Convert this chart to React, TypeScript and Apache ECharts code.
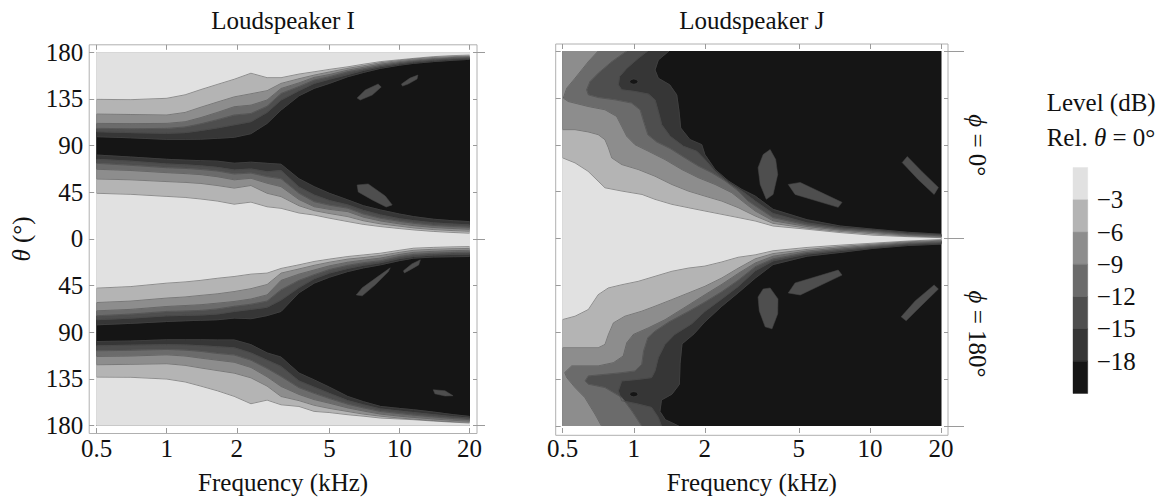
import { useEffect, useRef } from "react";
import * as echarts from "echarts";

// ---------- styling ----------
const FONT = "Liberation Serif, Times New Roman, Times, serif";
const TEXT = "#111111";
const FRAME = "#b0b0b0";
const TICK = "#9a9a9a";
const CONTOUR = "rgba(70,70,70,0.6)";

// ---------- level scale ----------
const LEVELS = [-3, -6, -9, -12, -15, -18];
const LEVEL_FLOOR = -21;
// band colours, from "above -3 dB" down to "below -18 dB"
const BAND_COLORS = ["#e1e1e1", "#b4b4b4", "#8d8d8d", "#6b6b6b", "#4e4e4e", "#363636", "#151515"];
const ISLAND_COLOR = "#4e4e4e";

const F_MIN = 0.5;
const F_MAX = 20;
const FREQ_TICKS = [0.5, 1, 2, 5, 10, 20];

// ---------- Loudspeaker I ----------
// contour angles (deg) sampled at these frequencies (kHz)
const FREQ_I = [0.5, 0.7, 1.0, 1.2, 1.4, 1.65, 1.95, 2.3, 2.7, 3.1, 3.7, 4.3, 5.0, 6.0, 7.0, 8.3, 10, 11.5, 14, 17, 20];

// φ = 0°, contours on the on-axis side of the null (rows: −3 … −18 dB)
const I_PHI0_FRONT = [
  [44, 43, 41, 40, 38.5, 36.5, 33.5, 35.5, 31, 29.5, 25, 23, 20, 16.7, 14, 11.9, 10, 8.7, 7.2, 6.2, 5.5],
  [57.8, 57, 55.3, 54.5, 53.5, 51.5, 49, 51.5, 44, 40.8, 32, 27.3, 24.5, 21.5, 17.5, 14.5, 12.3, 10.6, 9, 8, 7.4],
  [67.2, 66, 63.9, 63, 62, 60, 57, 58.5, 53.7, 50.4, 38, 31.1, 28.5, 26.3, 21, 17.3, 14.5, 12.8, 11, 10, 9.3],
  [72.9, 71, 68.7, 68, 67, 65.5, 62.6, 63.5, 60, 58, 44, 35.9, 32.5, 29.6, 24, 19.9, 17, 15.1, 13, 12, 11.2],
  [76.8, 75, 72.3, 71.5, 70.5, 69, 66.5, 67.5, 64.8, 66, 50, 42.4, 37, 32.8, 27.5, 23.1, 19.5, 17.6, 15.5, 14.3, 13.5],
  [80.9, 79, 76.8, 76, 75.5, 75, 73, 74, 72.9, 72, 58, 50.4, 44, 37.6, 32, 27.9, 24, 21.5, 19, 17.5, 16.7],
];
// φ = 0°, contours on the rear side of the null
const I_PHI0_REAR = [
  [134.6, 134.3, 135.6, 139, 144, 149, 154, 159.8, 155.5, 155.5, 159, 161.2, 163.5, 166, 168.5, 171, 172.8, 174.1, 175.8, 176.8, 177.3],
  [120.4, 120, 119.5, 122, 127, 132, 137, 140, 143, 150, 154.5, 158, 161, 164.5, 167, 169.9, 172, 173.5, 175, 175.8, 176.3],
  [111.4, 111.2, 111.4, 113, 117, 122, 127.5, 129, 134, 145.1, 150.5, 155.8, 158.5, 162.8, 165.5, 168.6, 171, 172.5, 174, 175, 175.7],
  [106.6, 106.3, 106.6, 108, 111, 115, 119.5, 121, 128, 140.3, 147, 153.2, 156.5, 161.2, 164, 167.3, 170, 171.5, 173.2, 174.4, 175.1],
  [103.4, 102.5, 101.8, 102.5, 104.5, 107, 110, 113, 122, 133.9, 143, 150, 154, 158.5, 162.5, 166, 168.8, 170.5, 172.2, 173.5, 174.1],
  [98.6, 97.5, 96, 96, 96.2, 97, 98, 101.5, 111.4, 124.3, 138, 145.2, 150, 156.4, 160.5, 164.5, 167.5, 169.3, 171, 172.3, 173.2],
];
// φ = 180°
const I_PHI180_FRONT = [
  [47.5, 46, 42.7, 41.5, 40, 38, 36.3, 34, 33, 28.5, 25, 21.8, 19.5, 17, 15.5, 13.8, 11, 9, 8.2, 7.7, 7.4],
  [61.4, 60, 57.1, 56, 54.5, 53, 50.8, 48, 44, 33, 29, 25.5, 22.5, 19.5, 18, 16, 13, 11, 10, 9.5, 9.2],
  [69.4, 68, 65.2, 64.3, 63.5, 62, 60.4, 58, 54, 40, 34, 30, 26, 22.5, 20.5, 18.5, 15, 13, 12, 11.3, 11],
  [74.2, 72.5, 70, 69.5, 69, 67.5, 65, 63, 60, 49, 40, 34.5, 29.5, 25.5, 23, 21, 17, 15, 13.8, 13.1, 12.8],
  [78, 76.5, 74.2, 73.8, 73.5, 72.5, 70, 68, 66, 59, 47, 38.5, 33, 28.5, 25.5, 23, 19, 17, 15.6, 15, 14.8],
  [82.9, 81.5, 79.7, 79, 78.5, 78, 76.4, 77, 74, 70, 52, 42.7, 37, 31.5, 28, 25, 21, 18.6, 17.5, 17.2, 17],
];
const I_PHI180_REAR = [
  [133.3, 133.5, 135.2, 138, 142, 146.5, 151.9, 159, 155.5, 160, 161.6, 166.4, 167.5, 169.6, 171, 172.8, 173.7, 174.4, 175.7, 176.8, 177.6],
  [121.4, 121, 120.4, 122, 124.5, 127, 129.5, 134, 142, 152, 156, 160.5, 163.5, 166.5, 169, 171, 172.8, 173.8, 175.2, 176.3, 176.8],
  [113.4, 113, 111.8, 113, 115, 117, 119, 124, 133, 142.3, 150, 155, 158.5, 163, 166, 169, 171, 172.2, 173.7, 175, 175.8],
  [107.9, 107.5, 106.6, 107.3, 108.5, 110.5, 112, 117, 125, 132.7, 143.5, 149, 154, 159.5, 163, 166.5, 168.5, 170, 171.7, 173.3, 174.3],
  [103.1, 102.5, 102, 102.3, 103, 104, 105, 110, 117, 123, 137, 143, 149, 156, 160, 164, 166, 167.5, 169.5, 171.5, 172.8],
  [99, 98.5, 97.3, 97.3, 97.3, 97.5, 97.5, 102, 110, 114, 129.4, 136, 143, 152, 157, 161.6, 163.5, 164.8, 167, 169.5, 171.2],
];
// small −15…−12 dB pockets inside the deep null
const I_PHI0_ISLANDS = [
  [[6.58, 135.9], [7.13, 143.6], [8.1, 149.4], [8.35, 146.5], [7.64, 138.8], [6.78, 133.9]],
  [[10.2, 149.4], [11.1, 155.1], [12.0, 158], [11.9, 154.2], [10.9, 149.4], [10.3, 147.4]],
  [[6.58, 52], [7.34, 53], [8.69, 41.4], [9.31, 32.8], [8.77, 30.8], [7.64, 37.6], [6.65, 45.3]],
];
const I_PHI180_ISLANDS = [
  [[6.52, 54], [6.92, 47.2], [8.27, 34.7], [9.13, 27.9], [8.95, 31.8], [7.87, 44.3], [6.92, 54.9]],
  [[10.4, 30.8], [11.3, 24.1], [12.3, 20.2], [12.1, 25.1], [11.1, 29.9], [10.5, 32.8]],
  [[13.97, 145.5], [15.7, 146.5], [17.0, 151.3], [15.7, 151.5], [14.2, 149.4]],
];

// ---------- Loudspeaker J ----------
// contour polylines as [frequency kHz, θ deg]
const J_PHI0_C3 = [[0.5, 77.4], [0.564, 72.6], [0.64, 64.6], [0.706, 55.1], [0.755, 48.7], [0.892, 45.5], [1.084, 42.3], [1.23, 37.6], [1.45, 32.8], [1.7, 29.6], [2.0, 26.4], [2.36, 23.2], [2.77, 20.1], [3.27, 16.8], [3.89, 12], [5.42, 8.9], [7.48, 5.7], [10.3, 3.2], [14.4, 1.8], [20, 0.8]];
const J_PHI0_C6 = [[0.5, 104.5], [0.564, 104.5], [0.642, 102.3], [0.707, 99.7], [0.755, 94.9], [0.781, 87], [0.807, 77.4], [0.889, 71], [1.045, 66.2], [1.23, 59.8], [1.448, 51.9], [1.703, 45.5], [2.0, 40.7], [2.36, 35.9], [2.77, 29.6], [3.27, 21.6], [3.89, 14.5], [5.42, 10], [7.48, 6.8], [10.3, 4.5], [14.4, 2.5], [20, 1.4]];
const J_PHI0_C9 = [[0.707, 180], [0.642, 169.8], [0.564, 153.9], [0.52, 144.3], [0.503, 134.8], [0.528, 131.5], [0.642, 126.7], [0.755, 123.6], [0.846, 117.2], [0.889, 107.6], [0.934, 98.1], [1.012, 90.1], [1.155, 83.7], [1.355, 75.8], [1.598, 66.2], [1.879, 58.3], [2.21, 51.9], [2.6, 44], [3.0, 32.8], [3.27, 26.4], [3.89, 17], [5.42, 11.5], [7.48, 8], [10.3, 5.8], [14.4, 3.2], [20, 2.0]];
const J_PHI0_C12 = [[0.934, 180], [0.807, 169.8], [0.707, 158.7], [0.652, 150.6], [0.631, 142.7], [0.642, 137.9], [0.707, 135.3], [0.833, 133.1], [0.979, 130], [1.063, 123.6], [1.1, 112.4], [1.146, 99.7], [1.25, 92.7], [1.426, 86.3], [1.647, 77.4], [1.879, 69.4], [2.14, 63.1], [2.44, 55.1], [2.77, 45.5], [3.05, 35.9], [3.27, 31.3], [3.89, 20], [5.42, 13], [7.48, 9], [10.3, 7], [14.4, 4], [20, 2.6]];
const J_PHI0_C15 = [[1.146, 180], [1.045, 173], [0.934, 163.4], [0.87, 155.4], [0.86, 147.5], [0.889, 142.7], [1.012, 141.1], [1.155, 138.6], [1.23, 133.1], [1.27, 122], [1.313, 109.3], [1.426, 98.1], [1.624, 88.5], [1.85, 83.7], [2.0, 75.8], [2.21, 64.6], [2.52, 53.5], [2.87, 45.5], [3.27, 35.9], [3.89, 24], [5.42, 15], [7.48, 10.3], [10.3, 8], [14.4, 4.8], [20, 3.3]];
const J_PHI0_C18 = [[1.41, 180], [1.27, 171.4], [1.23, 161.8], [1.27, 153.9], [1.42, 147.5], [1.52, 137.9], [1.555, 122], [1.58, 106.1], [1.73, 94.9], [1.94, 90.1], [2.0, 80.6], [2.21, 66.2], [2.52, 55.1], [2.87, 47.1], [3.27, 40.7], [3.89, 28], [5.42, 18], [7.48, 12], [10.3, 9], [14.4, 6], [20, 4.1]];

const J_PHI180_C3 = [[0.5, 77.8], [0.564, 74.6], [0.642, 68.2], [0.707, 53.9], [0.78, 47.5], [0.889, 44.4], [1.045, 41.1], [1.23, 36.3], [1.448, 31.5], [1.703, 28.4], [2.0, 26.5], [2.36, 22.5], [2.77, 18], [3.27, 15.7], [3.89, 11.8], [5.42, 8.6], [7.48, 6.4], [10.3, 4.5], [14.4, 2.5], [20, 1.0]];
const J_PHI180_C6 = [[0.5, 104.9], [0.707, 104.9], [0.755, 101.7], [0.781, 92.1], [0.82, 81], [0.917, 74.6], [1.08, 69.8], [1.23, 65], [1.448, 58.7], [1.703, 52.3], [2.0, 45.9], [2.36, 37.9], [2.77, 28.5], [3.27, 19.5], [3.89, 14.5], [5.42, 10.5], [7.48, 7.7], [10.3, 5.5], [14.4, 3.2], [20, 1.8]];
const J_PHI180_C9 = [[0.73, 180], [0.685, 168.6], [0.62, 152.6], [0.564, 143.1], [0.52, 133.5], [0.51, 128.7], [0.546, 122.3], [0.602, 122.3], [0.707, 122.3], [0.82, 119.2], [0.902, 112.8], [0.934, 100.1], [0.996, 92.1], [1.155, 85.7], [1.355, 78], [1.703, 64], [2.0, 54], [2.36, 44], [2.77, 33.5], [3.27, 23.5], [3.89, 17], [5.42, 12], [7.48, 9], [10.3, 6.5], [14.4, 4], [20, 2.5]];
const J_PHI180_C12 = [[1.08, 180], [0.98, 165.4], [0.889, 152.6], [0.755, 143.1], [0.642, 139.9], [0.622, 136.7], [0.642, 131.9], [0.755, 130.4], [0.889, 128.8], [1.012, 127.1], [1.08, 120.8], [1.1, 108], [1.146, 95.3], [1.23, 88.9], [1.41, 80], [1.703, 70], [2.0, 61], [2.36, 51], [2.77, 40], [3.27, 27], [3.89, 19.5], [5.42, 13.5], [7.48, 10.3], [10.3, 7.5], [14.4, 4.8], [20, 3.3]];
const J_PHI180_C15 = [[1.31, 180], [1.27, 171.8], [1.19, 162.2], [1.045, 159], [0.889, 155.8], [0.86, 146.2], [0.889, 136.7], [1.045, 135.2], [1.19, 133.5], [1.23, 127.1], [1.27, 114.4], [1.355, 101.7], [1.49, 92.1], [1.756, 82], [2.0, 70], [2.36, 58], [2.77, 46], [3.27, 31], [3.89, 21.5], [5.42, 15], [7.48, 11.7], [10.3, 8.5], [14.4, 5.6], [20, 4.3]];
const J_PHI180_C18 = [[1.55, 180], [1.36, 174], [1.29, 166], [1.31, 155], [1.45, 149.5], [1.56, 140], [1.57, 120.3], [1.6, 101.2], [1.8, 91.5], [2.0, 80], [2.36, 65], [2.77, 52], [3.27, 38], [3.89, 25], [5.42, 17], [7.48, 13.4], [10.3, 9.5], [14.4, 6.8], [20, 5.4]];

const J_PHI0_ISLANDS = [
  [[3.78, 85.4], [3.99, 75.8], [4.07, 61.5], [3.89, 42.3], [3.64, 37.6], [3.43, 51.9], [3.36, 68], [3.53, 80.6]],
  [[13.7, 72.9], [14.4, 78.7], [16.6, 64.3], [19.5, 49], [18.7, 42.3], [16.0, 56.7]],
  [[4.51, 51.9], [5.07, 53.8], [7.62, 34.7], [7.34, 29.9], [4.82, 42.3]],
];
const J_PHI180_ISLANDS = [
  [[3.78, 47.5], [4.08, 58], [4.07, 72.3], [3.85, 86.7], [3.6, 84.8], [3.4, 69.5], [3.36, 56.1], [3.53, 48.5]],
  [[18.7, 44.6], [19.5, 48.5], [16.3, 65.7], [14.24, 79], [13.56, 75.2], [15.55, 59.9]],
  [[4.51, 52.3], [5.07, 54.2], [7.62, 35.1], [7.34, 30.3], [4.82, 42.7]],
];
// deepest (< −18 dB) spot inside the −15…−18 pocket near 1 kHz
const J_PHI0_DOT = [[0.96, 150.6], [0.972, 152.4], [1.0, 153.1], [1.029, 152.4], [1.042, 150.6], [1.029, 148.8], [1.0, 148.1], [0.972, 148.8]];
const J_PHI180_DOT = [[0.96, 149.5], [0.972, 151.3], [1.0, 152], [1.029, 151.3], [1.042, 149.5], [1.029, 147.7], [1.0, 147], [0.972, 147.7]];

const J_PHI0 = [J_PHI0_C3, J_PHI0_C6, J_PHI0_C9, J_PHI0_C12, J_PHI0_C15, J_PHI0_C18];
const J_PHI180 = [J_PHI180_C3, J_PHI180_C6, J_PHI180_C9, J_PHI180_C12, J_PHI180_C15, J_PHI180_C18];

// ---------- layout ----------
const GRID_I = { left: 96.7, top: 52.3, width: 372.8, height: 373.7 };
const GRID_J = { left: 562.7, top: 51, width: 378.3, height: 377.3 };
const GRID_BAR = { left: 1073, top: 167.5, width: 14.7, height: 226 };
const PAD_I = 7.5;
const PAD_J = 7;
const FS = 25;

type Shape = { pts: number[][]; fill?: string; stroke?: string };

const signed = (c: number[][], s: number) => c.map(([f, t]) => [f, s * t]);

function shapesI(): Shape[] {
  const fills: Shape[] = [];
  const lines: Shape[] = [];
  fills.push({ pts: [[F_MIN, -180], [F_MAX, -180], [F_MAX, 180], [F_MIN, 180]], fill: BAND_COLORS[6] });
  const halves = [
    { s: 1, front: I_PHI0_FRONT, rear: I_PHI0_REAR, islands: I_PHI0_ISLANDS },
    { s: -1, front: I_PHI180_FRONT, rear: I_PHI180_REAR, islands: I_PHI180_ISLANDS },
  ];
  for (let k = LEVELS.length - 1; k >= 0; k--) {
    for (const h of halves) {
      const fr = FREQ_I.map((f, i) => [f, h.s * h.front[k][i]]);
      const re = FREQ_I.map((f, i) => [f, h.s * h.rear[k][i]]);
      fills.push({ pts: [...fr, [F_MAX, 0], [F_MIN, 0]], fill: BAND_COLORS[k] });
      fills.push({ pts: [...re, [F_MAX, h.s * 180], [F_MIN, h.s * 180]], fill: BAND_COLORS[k] });
      lines.push({ pts: fr, stroke: CONTOUR }, { pts: re, stroke: CONTOUR });
    }
  }
  for (const h of halves) {
    for (const isl of h.islands) fills.push({ pts: signed(isl, h.s), fill: ISLAND_COLOR, stroke: CONTOUR });
  }
  return [...fills, ...lines];
}

function shapesJ(): Shape[] {
  const fills: Shape[] = [];
  const lines: Shape[] = [];
  fills.push({ pts: [[F_MIN, -180], [F_MAX, -180], [F_MAX, 180], [F_MIN, 180]], fill: BAND_COLORS[6] });
  const halves = [
    { s: 1, cs: J_PHI0, islands: J_PHI0_ISLANDS, dot: J_PHI0_DOT },
    { s: -1, cs: J_PHI180, islands: J_PHI180_ISLANDS, dot: J_PHI180_DOT },
  ];
  for (let k = LEVELS.length - 1; k >= 0; k--) {
    for (const h of halves) {
      const c = signed(h.cs[k], h.s);
      const poly = [...c, [F_MAX, 0], [F_MIN, 0]];
      if (h.cs[k][0][0] > F_MIN) poly.push([F_MIN, h.s * 180]);
      fills.push({ pts: poly, fill: BAND_COLORS[k] });
      lines.push({ pts: c, stroke: CONTOUR });
    }
  }
  for (const h of halves) {
    for (const isl of h.islands) fills.push({ pts: signed(isl, h.s), fill: ISLAND_COLOR, stroke: CONTOUR });
    fills.push({ pts: signed(h.dot, h.s), fill: BAND_COLORS[6], stroke: CONTOUR });
  }
  return [...fills, ...lines];
}

function contourSeries(shapes: Shape[], xi: number, yi: number) {
  return {
    type: "custom",
    xAxisIndex: xi,
    yAxisIndex: yi,
    clip: true,
    silent: true,
    data: shapes.map((s) => s.pts[0]),
    renderItem: (params: any, api: any) => {
      const s = shapes[params.dataIndex];
      const points = s.pts.map((p) => api.coord(p));
      if (s.fill) {
        return {
          type: "polygon",
          shape: { points },
          style: { fill: s.fill, stroke: s.stroke || s.fill, lineWidth: s.stroke ? 0.9 : 1 },
        };
      }
      return { type: "polyline", shape: { points }, style: { fill: null, stroke: s.stroke, lineWidth: 0.9 } };
    },
  };
}

const fmtFreq = (v: number) => String(Number(Number(v).toPrecision(3)));

function xAxes(g: number, pad: number) {
  const common = {
    gridIndex: g,
    type: "log",
    logBase: 10,
    min: F_MIN,
    max: F_MAX,
    offset: pad,
    axisLine: { show: false, onZero: false },
    splitLine: { show: false },
    minorTick: { show: false },
  };
  return [
    {
      ...common,
      position: "bottom",
      axisTick: { show: true, inside: true, length: 5, customValues: FREQ_TICKS, lineStyle: { color: TICK } },
      axisLabel: { show: true, customValues: FREQ_TICKS, formatter: fmtFreq, fontFamily: FONT, fontSize: FS, color: TEXT, margin: 3 },
      name: "Frequency (kHz)",
      nameLocation: "middle",
      nameGap: 37,
      nameTextStyle: { fontFamily: FONT, fontSize: FS, color: TEXT },
    },
    {
      ...common,
      position: "top",
      axisTick: { show: true, inside: true, length: 5, customValues: FREQ_TICKS, lineStyle: { color: TICK } },
      axisLabel: { show: false, customValues: FREQ_TICKS },
    },
  ];
}

function yAxes(g: number, pad: number, labelled: boolean, longTick: number) {
  const common = {
    gridIndex: g,
    type: "value",
    min: -180,
    max: 180,
    offset: pad,
    axisLine: { show: false, onZero: false },
    splitLine: { show: false },
  };
  const left: any = {
    ...common,
    interval: 45,
    position: "left",
    axisTick: { show: true, inside: true, length: 5, lineStyle: { color: TICK } },
    axisLabel: {
      show: labelled,
      formatter: (v: number) => String(Math.abs(v)),
      fontFamily: FONT,
      fontSize: FS,
      color: TEXT,
      margin: 6,
    },
  };
  if (labelled) {
    Object.assign(left, {
      name: "{i|θ} (°)",
      nameLocation: "middle",
      nameRotate: 90,
      nameGap: 55,
      nameTextStyle: {
        fontFamily: FONT,
        fontSize: FS,
        color: TEXT,
        rich: { i: { fontFamily: FONT, fontSize: FS, fontStyle: "italic", color: TEXT } },
      },
    });
  }
  return [
    left,
    {
      ...common,
      interval: 45,
      position: "right",
      axisTick: { show: true, inside: true, length: 4, lineStyle: { color: TICK } },
      axisLabel: { show: false },
    },
    {
      ...common,
      interval: 180,
      position: "right",
      axisTick: { show: true, inside: false, length: longTick, lineStyle: { color: TICK } },
      axisLabel: { show: false },
    },
  ];
}

function frame(g: { left: number; top: number; width: number; height: number }, pad: number) {
  return {
    type: "rect",
    silent: true,
    shape: { x: g.left - pad, y: g.top - pad, width: g.width + 2 * pad, height: g.height + 2 * pad },
    style: { fill: "none", stroke: FRAME, lineWidth: 1 },
  };
}

function label(text: string, x: number, y: number, opts: any = {}) {
  return {
    type: "text",
    silent: true,
    x,
    y,
    rotation: opts.rotation || 0,
    style: {
      text,
      fontFamily: FONT,
      fontSize: FS,
      fill: TEXT,
      align: opts.align || "center",
      verticalAlign: "middle",
      textAlign: opts.align || "center",
      textVerticalAlign: "middle",
      rich: { i: { fontFamily: FONT, fontSize: FS, fontStyle: "italic", fill: TEXT } },
    },
  };
}

function buildOption() {
  const barEdges = [0, ...LEVELS, LEVEL_FLOOR];
  const barBands = barEdges.slice(0, -1).map((hi, i) => [0, hi, barEdges[i + 1], i]);

  return {
    animation: false,
    backgroundColor: "#ffffff",
    textStyle: { fontFamily: FONT },
    grid: [
      { ...GRID_I, containLabel: false },
      { ...GRID_J, containLabel: false },
      { ...GRID_BAR, containLabel: false },
    ],
    xAxis: [
      ...xAxes(0, PAD_I),
      ...xAxes(1, PAD_J),
      { gridIndex: 2, type: "value", min: 0, max: 1, show: false },
    ],
    yAxis: [
      ...yAxes(0, PAD_I, true, 8),
      ...yAxes(1, PAD_J, false, 16),
      {
        gridIndex: 2,
        type: "value",
        min: LEVEL_FLOOR,
        max: 0,
        interval: 3,
        position: "right",
        axisLine: { show: false },
        axisTick: { show: false },
        splitLine: { show: false },
        axisLabel: {
          formatter: (v: number) => (v === 0 || v === LEVEL_FLOOR ? "" : "\u2212" + Math.abs(v)),
          fontFamily: FONT,
          fontSize: FS,
          color: TEXT,
          margin: 9,
        },
      },
    ],
    series: [
      contourSeries(shapesI(), 0, 0),
      contourSeries(shapesJ(), 2, 3),
      {
        type: "custom",
        xAxisIndex: 4,
        yAxisIndex: 6,
        silent: true,
        data: barBands,
        renderItem: (params: any, api: any) => {
          const p0 = api.coord([0, api.value(1)]);
          const p1 = api.coord([1, api.value(2)]);
          return {
            type: "rect",
            shape: { x: p0[0], y: p0[1], width: p1[0] - p0[0], height: p1[1] - p0[1] },
            style: { fill: BAND_COLORS[api.value(3)], stroke: BAND_COLORS[api.value(3)], lineWidth: 0.4 },
          };
        },
      },
    ],
    graphic: [
      frame(GRID_I, PAD_I),
      frame(GRID_J, PAD_J),
      label("Loudspeaker I", GRID_I.left + GRID_I.width / 2, 20),
      label("Loudspeaker J", GRID_J.left + GRID_J.width / 2, 20),
      label("{i|ϕ} = 0°", GRID_J.left + GRID_J.width + 36.5, GRID_J.top + GRID_J.height / 4, { rotation: -Math.PI / 2 }),
      label("{i|ϕ} = 180°", GRID_J.left + GRID_J.width + 36.5, GRID_J.top + (3 * GRID_J.height) / 4, { rotation: -Math.PI / 2 }),
      label("Level (dB)", 1046.7, 102.5, { align: "left" }),
      label("Rel. {i|θ} = 0°", 1046.7, 137, { align: "left" }),
    ],
  };
}

export default function App() {
  const ref = useRef<HTMLDivElement>(null);
  useEffect(() => {
    document.body.style.margin = "0";
    const chart = echarts.init(ref.current as HTMLDivElement, null, { renderer: "svg" });
    chart.setOption(buildOption() as any);
    return () => chart.dispose();
  }, []);
  return <div ref={ref} style={{ width: 1169, height: 500 }} />;
}
